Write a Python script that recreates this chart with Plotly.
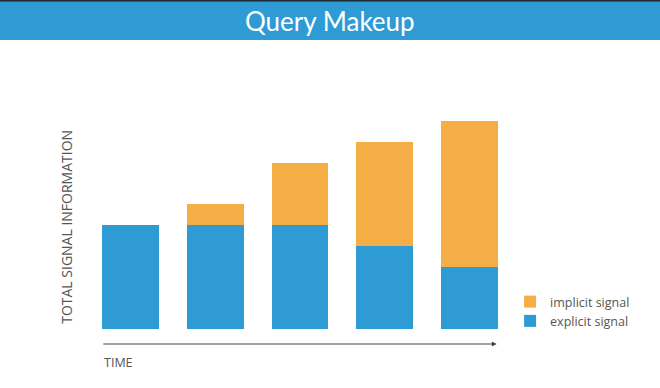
import plotly.graph_objects as go

categories = ["T1", "T2", "T3", "T4", "T5"]
explicit_signal = [5, 5, 5, 4, 3]
implicit_signal = [0, 1, 3, 5, 7]

BLUE = "#2E9BD5"
ORANGE = "#F5AE45"
GRAY = "#555555"
FONT = "Lato"
FONT2 = "Open Sans"

W, H = 660, 388
L, R, T, B = 88.2, 147.6, 77, 59
pw = W - L - R
ph = H - T - B

def px(x):
    return (x - L) / pw

def py(y):
    return (H - B - y) / ph

fig = go.Figure()
fig.add_trace(go.Bar(x=categories, y=explicit_signal, name="explicit signal",
                     marker=dict(color=BLUE, line=dict(width=0))))
fig.add_trace(go.Bar(x=categories, y=implicit_signal, name="implicit signal",
                     marker=dict(color=ORANGE, line=dict(width=0))))

fig.update_layout(
    width=W, height=H,
    margin=dict(l=L, r=R, t=T, b=B, pad=0),
    barmode="stack", bargap=0.332,
    plot_bgcolor="white", paper_bgcolor="white",
    font=dict(family=FONT, color=GRAY),
    xaxis=dict(range=[-0.5, 4.5], showticklabels=False, showgrid=False,
               zeroline=False, showline=False, fixedrange=True),
    yaxis=dict(range=[0, 12.115], showticklabels=False, showgrid=False,
               zeroline=False, showline=False, fixedrange=True),
    legend=dict(traceorder="reversed", x=px(510.5), y=py(287), xanchor="left",
                yanchor="top", font=dict(size=12.5, color=GRAY, family=FONT2),
                bgcolor="rgba(0,0,0,0)", itemsizing="constant",
                tracegroupgap=0),
    showlegend=True,
)

# Title banner
fig.add_shape(type="rect", xref="paper", yref="paper", layer="below",
              x0=px(-5), x1=px(W + 5), y0=py(40), y1=py(-5),
              fillcolor=BLUE, line=dict(width=0))
fig.add_shape(type="rect", xref="paper", yref="paper",
              x0=px(-5), x1=px(W + 5), y0=py(1.5), y1=py(-5),
              fillcolor="#1b2a33", line=dict(width=0))
fig.add_annotation(text="Query Makeup", xref="paper", yref="paper",
                   x=px(330), y=py(21), xanchor="center", yanchor="middle",
                   showarrow=False, font=dict(size=26, color="white", family=FONT))

# Axis arrow
fig.add_annotation(xref="x domain", yref="y domain", axref="x domain", ayref="y domain",
                   x=px(497), y=py(344), ax=px(102), ay=py(344), text="",
                   showarrow=True, arrowhead=2, arrowsize=0.8, arrowwidth=1.2,
                   arrowcolor="#444444")
fig.add_annotation(text="TIME", xref="paper", yref="paper",
                   x=px(102), y=py(362), xanchor="left", yanchor="middle",
                   showarrow=False, font=dict(size=12.5, color=GRAY, family=FONT2))
fig.add_annotation(text="TOTAL SIGNAL INFORMATION", xref="paper", yref="paper",
                   x=px(66), y=py(227), xanchor="center", yanchor="middle",
                   textangle=-90, showarrow=False,
                   font=dict(size=14, color=GRAY, family=FONT2))

fig.write_html("out.html")
